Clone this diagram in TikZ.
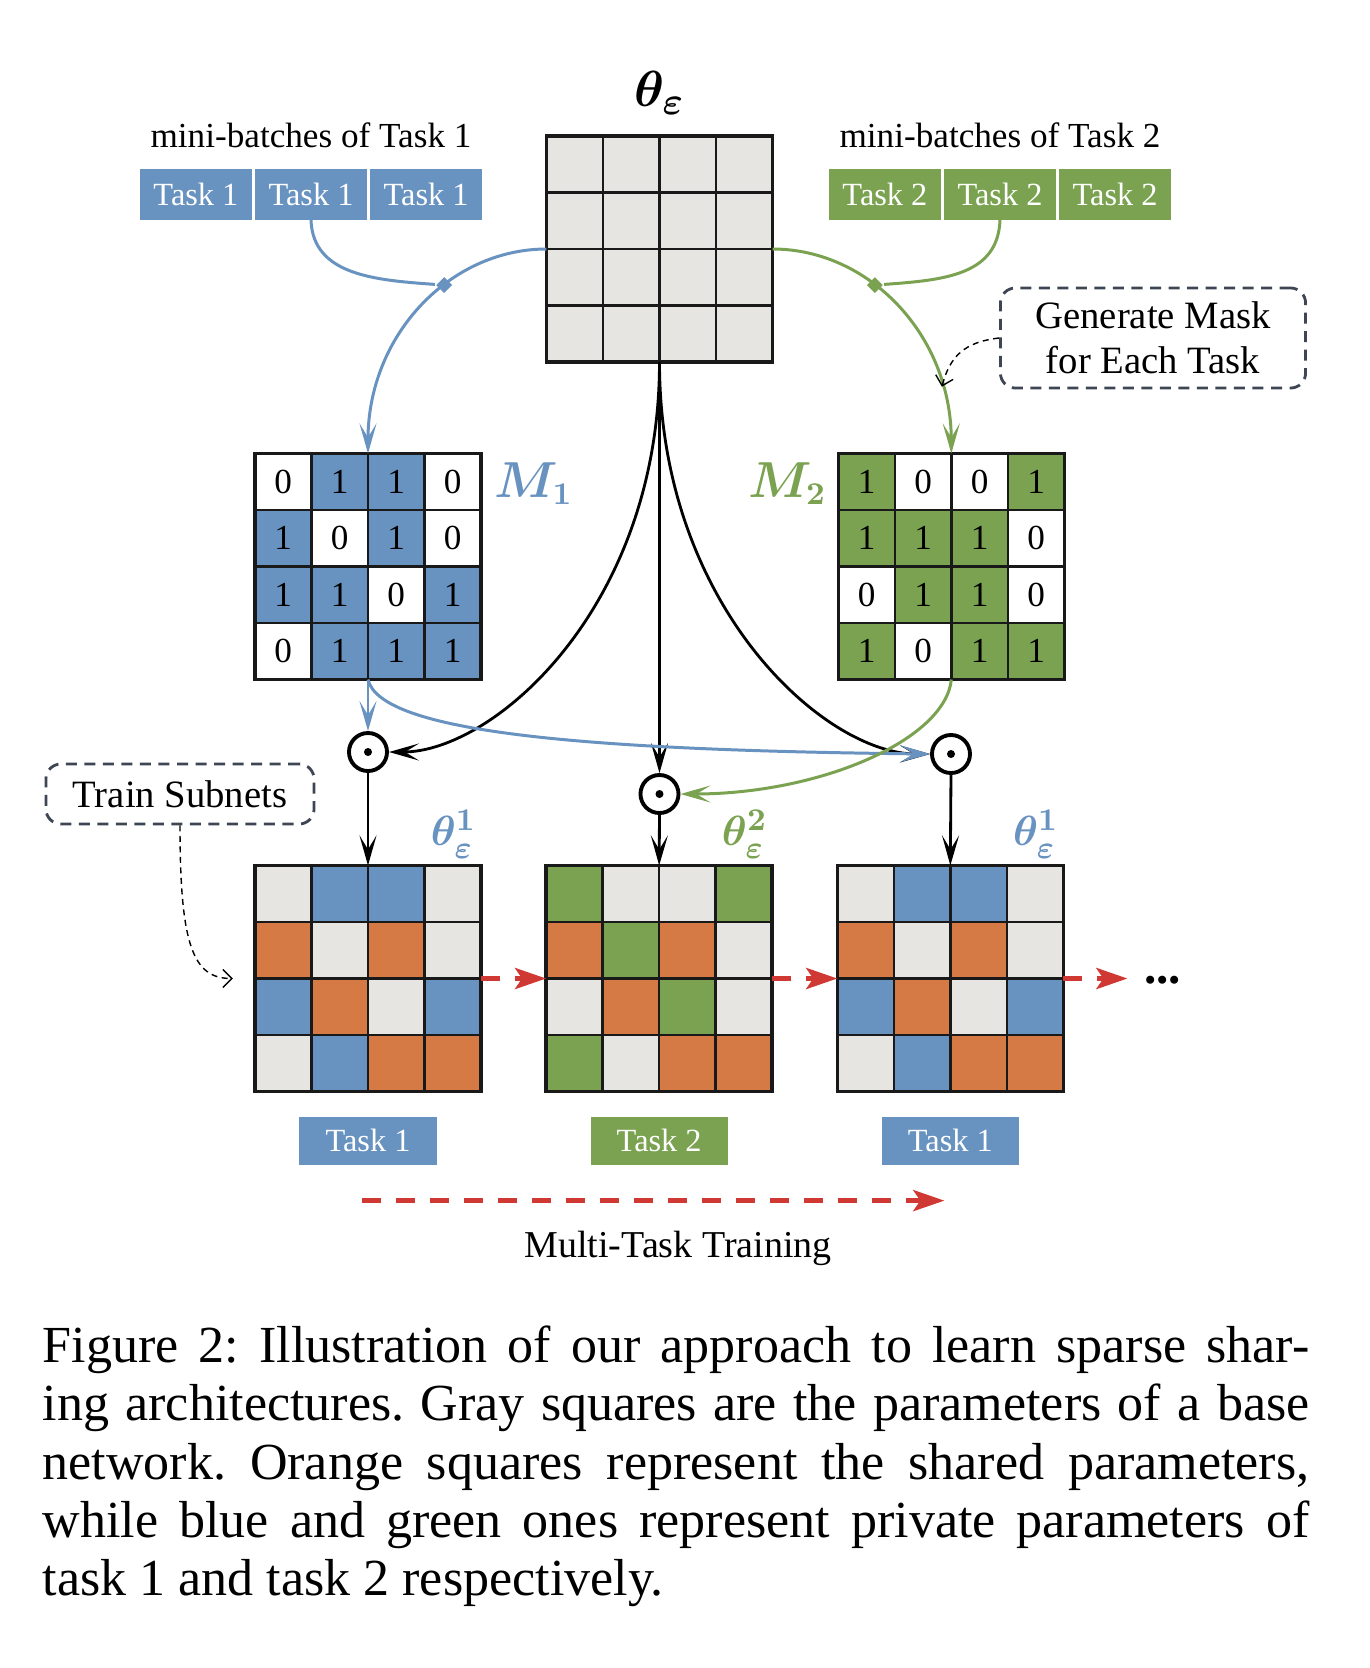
\documentclass[tikz,border=0pt]{standalone}
\usepackage{amsmath}
\usepackage{fontspec}
\setmainfont{Liberation Serif}
\usetikzlibrary{positioning,calc,arrows.meta,shapes.geometric}

\definecolor{tblue}{RGB}{104,146,192}
\definecolor{tgreen}{RGB}{122,162,80}
\definecolor{torange}{RGB}{213,121,69}
\definecolor{tgray}{RGB}{230,229,226}
\definecolor{tred}{RGB}{208,56,52}
\definecolor{tnote}{RGB}{62,70,84}
\colorlet{Gy}{tgray}
\colorlet{Bl}{tblue}
\colorlet{Gn}{tgreen}
\colorlet{Or}{torange}

% 4x4 grid on a matrix node, cell = 56.5 units
\newcommand{\cellgrid}[1]{%
  \foreach \i in {1,2,3} {
    \draw[gridline] ($(#1.center)+(\i*56.5-113,-113)$) -- ++(0,226);
    \draw[gridline] ($(#1.center)+(-113,\i*56.5-113)$) -- ++(226,0);
  }
  \draw[frameline] ($(#1.center)+(-113,-113)$) rectangle ++(226,226);
}
% coloured parameter cells, one list per row
\newcommand{\paintcells}[2]{%
  \foreach \row [count=\r from 0] in {#2}
    \foreach \cc [count=\k from 0] in \row
      \fill[\cc] ($(#1.center)+(\k*56.5-113,\r*56.5-113)$) rectangle ++(56.5,56.5);
  \cellgrid{#1}
}
% binary mask cells
\newcommand{\maskcells}[3]{%
  \foreach \row [count=\r from 0] in {#3}
    \foreach \mbit [count=\k from 0] in \row {
      \ifnum\mbit=1 \def\cc{#2}\else\def\cc{white}\fi
      \fill[\cc] ($(#1.center)+(\k*56.5-113,\r*56.5-113)$) rectangle ++(56.5,56.5);
      \node[digit] at ($(#1.center)+(\k*56.5-84.75,\r*56.5-84.75)$) {\mbit};
    }
  \cellgrid{#1}
}

\begin{document}
\begin{tikzpicture}[x=0.01cm, y=-0.01cm,
    gridline/.style={line width=0.75pt, draw=black!90},
    frameline/.style={line width=0.95pt, draw=black!90},
    matbox/.style={minimum size=2.26cm, inner sep=0pt, outer sep=0pt},
    digit/.style={inner sep=0pt, font=\fontsize{10}{12}\selectfont},
    taskbox/.style={text=white, font=\fontsize{9.2}{11}\selectfont, minimum width=1.12cm, minimum height=0.51cm, inner sep=0pt, outer sep=0pt},
    tasklab/.style={taskbox, minimum width=1.37cm, minimum height=0.48cm},
    notebox/.style={draw=tnote, dash pattern=on 0.11cm off 0.075cm, line width=0.8pt, rounded corners=0.15cm, align=center, font=\fontsize{11}{12.8}\selectfont},
    lab/.style={inner sep=0pt, font=\fontsize{10.8}{13}\selectfont},
    mathlab/.style={inner sep=0pt},
    thlab/.style={mathlab, font=\fontsize{12.5}{14}\selectfont},
    mulop/.style={circle, draw, line width=1.1pt, minimum size=0.38cm, inner sep=0pt,
        path picture={\fill (path picture bounding box.center) circle (0.04cm);}},
    dmd/.style={diamond, inner sep=0pt, minimum size=0.17cm},
    kline/.style={line width=0.8pt, draw=black},
    bline/.style={line width=0.85pt, draw=tblue},
    gline/.style={line width=0.85pt, draw=tgreen},
    tip/.style={-{Stealth[length=0.3cm,width=0.17cm,inset=0.14cm]}},
    rline/.style={draw=tred, line width=1.4pt, dash pattern=on 0.19cm off 0.15cm,
        -{Stealth[length=0.31cm,width=0.21cm,inset=0.07cm]}},
    hint/.style={draw=black, line width=0.4pt, dash pattern=on 0.06cm off 0.045cm,
        -{Straight Barb[length=0.09cm,width=0.18cm]}}]

    \path[use as bounding box, fill=white] (0,0) rectangle (1370,1668);

    % Base network
    \node[matbox] (thetaE) at (659.5,249) {};
    \paintcells{thetaE}{{Gy,Gy,Gy,Gy},{Gy,Gy,Gy,Gy},{Gy,Gy,Gy,Gy},{Gy,Gy,Gy,Gy}}
    \node[mathlab, above=0.21cm of thetaE, font=\fontsize{15.5}{17}\selectfont] (thetaLab) {$\boldsymbol{\theta_{\varepsilon}}$};

    % Mini-batches of each task
    \node[taskbox, fill=tblue] (tA2) at (311,194.5) {Task 1};
    \node[taskbox, fill=tblue, left=0.03cm of tA2] (tA1) {Task 1};
    \node[taskbox, fill=tblue, right=0.03cm of tA2] (tA3) {Task 1};
    \node[lab, font=\fontsize{10}{12}\selectfont, above=0.2cm of tA2] (tAlab) {mini-batches of Task 1};

    \node[taskbox, fill=tgreen] (tB2) at (1000,194.5) {Task 2};
    \node[taskbox, fill=tgreen, left=0.03cm of tB2] (tB1) {Task 2};
    \node[taskbox, fill=tgreen, right=0.03cm of tB2] (tB3) {Task 2};
    \node[lab, font=\fontsize{10}{12}\selectfont, above=0.2cm of tB2] (tBlab) {mini-batches of Task 2};

    % Masks
    \node[matbox] (mskA) at (368,566.5) {};
    \maskcells{mskA}{tblue}{{0,1,1,0},{1,0,1,0},{1,1,0,1},{0,1,1,1}}
    \node[mathlab, text=tblue, anchor=west, font=\fontsize{13.5}{15}\selectfont] (mA) at ($(mskA.north east)+(13,30)$) {$\boldsymbol{M_1}$};

    \node[matbox, right=3.57cm of mskA] (mskB) {};
    \maskcells{mskB}{tgreen}{{1,0,0,1},{1,1,1,0},{0,1,1,0},{1,0,1,1}}
    \node[mathlab, text=tgreen, anchor=east, font=\fontsize{13.5}{15}\selectfont] (mB) at ($(mskB.north west)+(-11,30)$) {$\boldsymbol{M_2}$};

    % Generate masks
    \draw[bline, tip] (thetaE.west) .. controls (450,249) and (368,335) .. (mskA.north)
        node[pos=0.39, dmd, fill=tblue] (dA) {};
    \draw[bline] (tA2.south) .. controls +(2,55) and +(-70,-5) .. (dA);
    \draw[gline, tip] (thetaE.east) .. controls (869,249) and (951,335) .. (mskB.north)
        node[pos=0.39, dmd, fill=tgreen] (dB) {} coordinate[pos=0.8] (gmk);
    \draw[gline] (tB2.south) .. controls +(-2,55) and +(70,-5) .. (dB);

    \node[notebox, minimum width=3.05cm, minimum height=1cm] (gen) at (1153,338) {Generate Mask\\for Each Task};
    \draw[hint] (gen.west) .. controls +(-35,4) and +(8,-30) .. (gmk);

    % Element-wise products
    \node[mulop] (mulA) at (368,752) {};
    \node[mulop] (mulB) at (659.5,794) {};
    \node[mulop] (mulC) at (951,754) {};

    \draw[kline, tip] (thetaE.south) -- (mulB.north);
    \draw[kline, tip] (thetaE.south) .. controls +(0,245) and +(105,0) .. (mulA.east);
    \draw[kline, tip] (thetaE.south) .. controls +(0,245) and +(-105,0) .. (mulC.west);

    \draw[bline, tip] (mskA.south) -- (mulA.north);
    \draw[bline, tip] (mskA.south) .. controls +(12,50) and +(-370,-4) .. (mulC.west);
    \draw[gline, tip] (mskB.south) .. controls +(-6,60) and +(140,0) .. (mulB.east);

    % Subnets
    \node[matbox] (subA) at (368,978.5) {};
    \paintcells{subA}{{Gy,Bl,Bl,Gy},{Or,Gy,Or,Gy},{Bl,Or,Gy,Bl},{Gy,Bl,Or,Or}}
    \node[matbox, right=0.65cm of subA] (subB) {};
    \paintcells{subB}{{Gn,Gy,Gy,Gn},{Or,Gn,Or,Gy},{Gy,Or,Gn,Gy},{Gn,Gy,Or,Or}}
    \node[matbox, right=0.65cm of subB] (subC) {};
    \paintcells{subC}{{Gy,Bl,Bl,Gy},{Or,Gy,Or,Gy},{Bl,Or,Gy,Bl},{Gy,Bl,Or,Or}}

    \node[thlab, text=tblue, above left=0.06cm and 0.04cm of subA.north east] (thA) {$\boldsymbol{\theta_{\varepsilon}^{1}}$};
    \node[thlab, text=tgreen, above left=0.06cm and 0.04cm of subB.north east] (thB) {$\boldsymbol{\theta_{\varepsilon}^{2}}$};
    \node[thlab, text=tblue, above left=0.06cm and 0.04cm of subC.north east] (thC) {$\boldsymbol{\theta_{\varepsilon}^{1}}$};

    \draw[kline, tip] (mulA.south) -- (subA.north);
    \draw[kline, tip] (mulB.south) -- (subB.north);
    \draw[kline, tip] (mulC.south) -- (subC.north);

    \node[notebox, minimum width=2.68cm, minimum height=0.6cm] (trn) at (180,794) {Train Subnets};
    \coordinate (trnEnd) at ($(subA.west)+(-22,0)$);
    \draw[hint] (trn.south) .. controls +(0,120) and +(-40,0) .. (trnEnd);

    % Training sequence
    \draw[rline] (subA.east) -- (subB.west);
    \draw[rline] (subB.east) -- (subC.west);
    \coordinate (moreEnd) at ($(subC.east)+(64,0)$);
    \draw[rline] (subC.east) -- (moreEnd);
    \node[inner sep=0pt, anchor=base west, font=\bfseries\fontsize{14}{16}\selectfont] (more) at ($(moreEnd)+(16,4.5)$) {...};

    \node[tasklab, fill=tblue, below=0.25cm of subA] (lbA) {Task 1};
    \node[tasklab, fill=tgreen, below=0.25cm of subB] (lbB) {Task 2};
    \node[tasklab, fill=tblue, below=0.25cm of subC] (lbC) {Task 1};

    \coordinate (mtA) at ($(lbA.south)+(-6,36)$);
    \coordinate (mtB) at ($(lbC.south)+(-6,36)$);
    \draw[rline] (mtA) -- (mtB);
    \node[lab] (mtt) at (678,1248) {Multi-Task Training};

    % Caption
    \node[anchor=north west, text width=12.66cm, align=justify, inner sep=0pt, font=\fontsize{14.8}{16.6}\selectfont\frenchspacing] (caption) at (42,1325)
        {Figure 2: Illustration of our approach to learn sparse shar-\linebreak
         ing architectures. Gray squares are the parameters of a base\linebreak
         network. Orange squares represent the shared parameters,\linebreak
         while blue and green ones represent private parameters of\linebreak
         task 1 and task 2 respectively.};
\end{tikzpicture}
\end{document}
